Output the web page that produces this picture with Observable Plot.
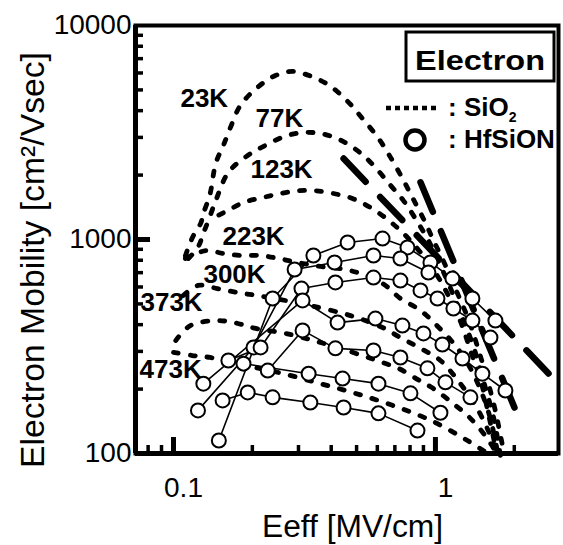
<!DOCTYPE html>
<html>
<head>
<meta charset="utf-8">
<script src="https://cdn.jsdelivr.net/npm/d3@7"></script>
<script src="https://cdn.jsdelivr.net/npm/@observablehq/plot@0.6"></script>
<style>
  html, body { margin: 0; padding: 0; background: #fff; }
  #chart svg { display: block; }
</style>
</head>
<body>
<div id="chart"></div>
<script>
// Electron mobility vs effective field, SiO2 (dotted) and HfSiON (open circles)
const temps = ["23K", "77K", "123K", "223K", "300K", "373K", "473K"];

// SiO2 curves: [Eeff (MV/cm), mobility (cm2/Vs)]
const sio2_23K = [[0.111,840],[0.116,970],[0.119,1040],[0.127,1190],[0.130,1320],[0.138,1640],[0.145,2270],[0.155,2750],[0.165,3340],[0.180,4230],[0.209,5130],[0.245,5840],[0.285,6100],[0.336,5780],[0.394,5240],[0.462,4420],[0.526,3680],[0.606,2970],[0.674,2420],[0.748,1930],[0.817,1570],[0.900,1250],[0.983,990],[1.09,760],[1.21,565],[1.34,420],[1.46,305],[1.58,220],[1.69,160],[1.80,110]];
const sio2_77K = [[0.114,815],[0.124,920],[0.130,1070],[0.136,1230],[0.145,1520],[0.162,2060],[0.192,2470],[0.224,2750],[0.265,3030],[0.311,3160],[0.364,3130],[0.430,2930],[0.504,2600],[0.580,2220],[0.674,1790],[0.755,1520],[0.839,1250],[0.940,990],[1.045,755],[1.16,565],[1.28,420],[1.41,305],[1.54,210],[1.67,146],[1.77,98]];
const sio2_123K = [[0.149,1300],[0.162,1370],[0.185,1490],[0.219,1570],[0.256,1640],[0.300,1690],[0.348,1690],[0.408,1640],[0.482,1555],[0.565,1410],[0.662,1230],[0.768,1045],[0.877,870],[1.00,700],[1.12,547],[1.25,410],[1.36,303],[1.49,219],[1.59,155],[1.69,109]];
const sio2_223K = [[0.111,815],[0.133,888],[0.155,860],[0.180,842],[0.215,842],[0.252,815],[0.297,781],[0.364,748],[0.474,716],[0.628,623],[0.735,530],[0.877,466],[1.03,388],[1.19,320],[1.34,258],[1.49,197],[1.62,146],[1.72,104]];
const sio2_300K = [[0.109,547],[0.124,610],[0.147,590],[0.176,565],[0.209,547],[0.256,524],[0.333,491],[0.474,441],[0.628,388],[0.735,348],[0.877,310],[1.045,272],[1.22,219],[1.42,168],[1.59,128],[1.72,101]];
const sio2_373K = [[0.102,337],[0.116,396],[0.147,418],[0.176,405],[0.206,384],[0.268,364],[0.364,330],[0.526,287],[0.628,266],[0.722,250],[0.854,222],[0.983,201],[1.17,171],[1.36,146],[1.55,121],[1.69,103]];
const sio2_473K = [[0.100,297],[0.118,287],[0.138,281],[0.188,258],[0.263,236],[0.364,212],[0.495,191],[0.685,168],[0.957,143],[1.325,115],[1.62,98]];

// Heavy long-dash guide lines
const longDashA = [[0.446,2390],[2.80,226]];
const longDashB = [[0.877,1850],[2.06,151]];

// HfSiON curves: [Eeff (MV/cm), mobility (cm2/Vs)]
const hf_23K = [[0.149,115],[0.239,530],[0.342,842],[0.462,968],[0.628,1010],[0.782,918],[0.957,781],[1.161,657],[1.384,530],[1.694,418]];
const hf_77K = [[0.124,159],[0.202,313],[0.290,724],[0.412,781],[0.580,842],[0.735,815],[0.940,701]];
const hf_123K = [[0.162,272],[0.215,313],[0.308,590],[0.415,630],[0.580,664],[0.735,643],[0.877,578],[1.018,530],[1.171,476],[1.384,418],[1.622,348]];
const hf_223K = [[0.130,212],[0.311,519],[0.423,409],[0.590,427],[0.748,396],[0.900,364],[1.063,323],[1.268,278],[1.511,236],[1.850,197]];
const hf_300K = [[0.229,244],[0.311,376],[0.415,310],[0.580,303],[0.735,281],[0.932,250],[1.092,215],[1.360,183]];
const hf_373K = [[0.185,263],[0.328,236],[0.442,224],[0.606,212],[0.803,191],[1.045,155]];
const hf_473K = [[0.154,177],[0.192,193],[0.239,183],[0.333,173],[0.446,164],[0.606,154],[0.854,128]];

// Temperature labels (text start position)
const labelE  = [0.1063, 0.2056, 0.1967, 0.1538, 0.1301, 0.0748, 0.0742];
const labelMu = [4560, 3677, 2124, 1033, 686, 508, 247];

// Axes
const xDomain = [0.0716, 2.95];
const yDomain = [100, 10000];
const xTickLabels = [0.1, 1];
const yTickLabels = [100, 1000, 10000];
const xMinor = [0.08, 0.09, 0.2, 0.3, 0.4, 0.5, 0.6, 0.7, 0.8, 0.9, 2];
const yMinor = [200, 300, 400, 500, 600, 700, 800, 900, 2000, 3000, 4000, 5000, 6000, 7000, 8000, 9000];
const yMajor = [1000];

const sio2Sets = [sio2_23K, sio2_77K, sio2_123K, sio2_223K, sio2_300K, sio2_373K, sio2_473K];
const hfSets = [hf_23K, hf_77K, hf_123K, hf_223K, hf_300K, hf_373K, hf_473K];

const toRows = (sets) => sets.flatMap((pts, i) => pts.map(([E, mu]) => ({T: temps[i], E, mu})));
const sio2Rows = toRows(sio2Sets);
const hfRows = toRows(hfSets);
const labels = temps.map((t, i) => ({t, E: labelE[i], mu: labelMu[i]}));

const W = 563, H = 545, mL = 135, mR = 5, mT = 25, mB = 92;
const fw = W - mL - mR, fh = H - mT - mB;
const FONT = "'Liberation Sans', Arial, Helvetica, sans-serif";

const chart = Plot.plot({
  width: W, height: H,
  marginLeft: mL, marginRight: mR, marginTop: mT, marginBottom: mB,
  style: {fontFamily: FONT, background: "white", color: "black", overflow: "visible"},
  x: {type: "log", domain: xDomain, axis: null},
  y: {type: "log", domain: yDomain, axis: null},
  marks: [
    Plot.line(sio2Rows, {x: "E", y: "mu", z: "T", stroke: "black", strokeWidth: 4.8, strokeDasharray: "5,12", curve: "catmull-rom"}),
    Plot.line(longDashA, {x: d => d[0], y: d => d[1], stroke: "black", strokeWidth: 6.5, strokeDasharray: "32,21"}),
    Plot.line(longDashB, {x: d => d[0], y: d => d[1], stroke: "black", strokeWidth: 6.5, strokeDasharray: "32,21"}),
    Plot.line(hfRows, {x: "E", y: "mu", z: "T", stroke: "black", strokeWidth: 1.6}),
    Plot.dot(hfRows, {x: "E", y: "mu", r: 7, fill: "white", stroke: "black", strokeWidth: 2}),
    Plot.text(labels, {x: "E", y: "mu", text: "t", textAnchor: "start", fontWeight: "bold", fontSize: 26, fill: "black"}),
    Plot.tickY(yMinor, {y: d => d, insetRight: fw - 8, strokeWidth: 3.5}),
    Plot.tickY(yMajor, {y: d => d, insetRight: fw - 15, strokeWidth: 5}),
    Plot.tickX(xMinor, {x: d => d, insetTop: fh - 8, strokeWidth: 3.5}),
    Plot.tickX(xTickLabels, {x: d => d, insetTop: fh - 16, strokeWidth: 5}),
    Plot.frame({stroke: "black", strokeWidth: 4}),
    Plot.ruleX([xDomain[0]], {strokeWidth: 5}),
    Plot.ruleY([yDomain[0]], {strokeWidth: 5}),
    Plot.axisY(yTickLabels, {tickSize: 0, tickPadding: 4, fontSize: 28, tickFormat: d => String(d), label: null}),
    Plot.axisX(xTickLabels, {tickSize: 0, tickPadding: 24, fontSize: 28, dx: 10, tickFormat: d => String(d), label: null})
  ]
});

document.getElementById("chart").appendChild(chart);

// Axis titles and legend
const svg = d3.select(chart);

// y title: runs upward from y=468 to y=52, glyph tops near x=22
const yTitle = svg.append("text")
  .attr("transform", "translate(44,468) rotate(-90)")
  .attr("text-anchor", "start")
  .attr("font-family", FONT).attr("font-size", 30)
  .text("Electron Mobility [cm²/Vsec]");
{
  const span = yTitle.node().getBoundingClientRect().height;
  if (span > 0) yTitle.attr("font-size", (30 * 416 / span).toFixed(2));
}

svg.append("text")
  .attr("x", 262).attr("y", 537)
  .attr("text-anchor", "start")
  .attr("font-family", FONT).attr("font-size", 31)
  .attr("textLength", 181).attr("lengthAdjust", "spacingAndGlyphs")
  .text("Eeff [MV/cm]");

const lg = svg.append("g").attr("font-family", FONT).attr("text-anchor", "start");
lg.append("rect").attr("x", 406).attr("y", 32).attr("width", 148).attr("height", 49)
  .attr("fill", "white").attr("stroke", "black").attr("stroke-width", 3);
lg.append("text").attr("x", 415).attr("y", 70)
  .attr("font-size", 28).attr("font-weight", "bold")
  .attr("textLength", 130).attr("lengthAdjust", "spacingAndGlyphs")
  .text("Electron");
lg.append("line").attr("x1", 386).attr("x2", 438).attr("y1", 108).attr("y2", 108)
  .attr("stroke", "black").attr("stroke-width", 4.5).attr("stroke-dasharray", "5,4");
const sio2Label = lg.append("text").attr("x", 448).attr("y", 116)
  .attr("font-size", 26).attr("font-weight", "bold");
sio2Label.append("tspan").text(": SiO");
sio2Label.append("tspan").attr("font-size", 14).attr("dy", 6).text("2");
lg.append("circle").attr("cx", 415).attr("cy", 140).attr("r", 9.5)
  .attr("fill", "none").attr("stroke", "black").attr("stroke-width", 4.5);
lg.append("text").attr("x", 448).attr("y", 148)
  .attr("font-size", 26).attr("font-weight", "bold")
  .text(": HfSiON");
</script>
</body>
</html>
